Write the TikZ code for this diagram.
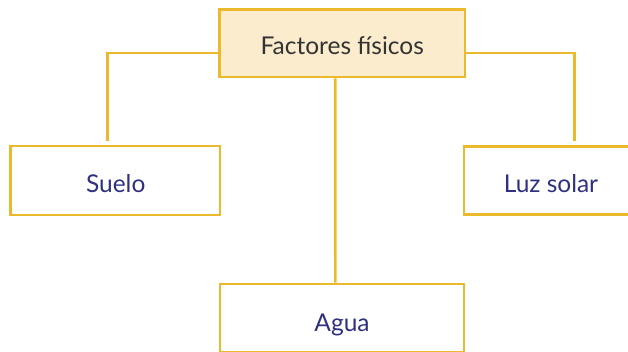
\documentclass[tikz,border=0pt]{standalone}
\usepackage{fontspec}
\setmainfont{Lato}
\definecolor{gold}{HTML}{EBBA2C}
\definecolor{cream}{HTML}{FAECCC}
\definecolor{ink}{HTML}{2E3081}
\definecolor{dark}{HTML}{333333}
\tikzset{
  boxnode/.style={draw=gold, line width=2.6pt, rectangle, inner sep=0pt},
  lbl/.style={anchor=base, inner sep=0pt, font=\fontsize{24.5}{28}\selectfont, text=ink},
  conn/.style={draw=gold, line width=2.6pt}
}
\begin{document}
\begin{tikzpicture}[x=1pt,y=-1pt]
\useasboundingbox (0,0) rectangle (628,352);
\clip (0,0) rectangle (628,352);
\node[boxnode, fill=cream, minimum width=245.5pt, minimum height=67.5pt] (top) at (342.25,43.25) {};
\node[boxnode, minimum width=209.3pt, minimum height=69pt] (suelo) at (115.35,180.5) {};
\node[boxnode, minimum width=210pt, minimum height=68pt] (luz) at (569,180.5) {};
\node[boxnode, minimum width=244pt, minimum height=68pt] (agua) at (342,318) {};
\node[lbl, text=dark] (ttop) at (342.2,55) {Factores físicos};
\node[lbl] (tsuelo) at (115.7,193) {Suelo};
\node[lbl] (tluz) at (551,193) {Luz solar};
\node[lbl] (tagua) at (342,331.7) {Agua};
\coordinate (sl) at (107.3,141);
\coordinate (sr) at (574.3,141);
\draw[conn] ([yshift=-9.7pt]top.west) -| (sl);
\draw[conn] ([yshift=-9.7pt]top.east) -| (sr);
\draw[conn] ([xshift=-7pt]top.south) -- ([xshift=-6.7pt]agua.north);
\end{tikzpicture}
\end{document}
